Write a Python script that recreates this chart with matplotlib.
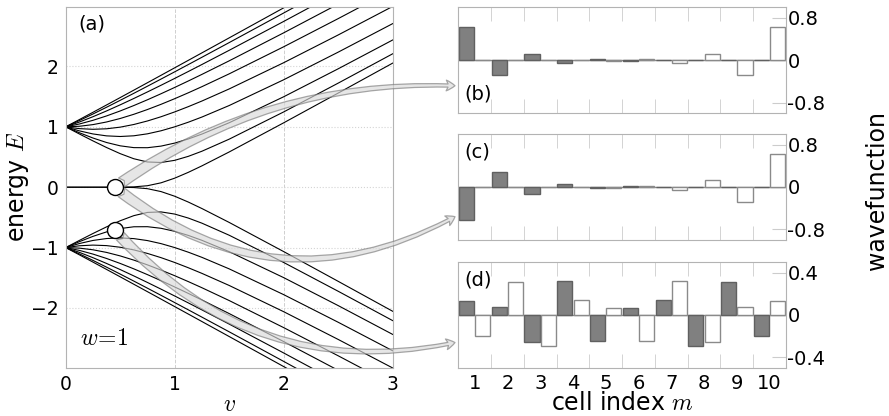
import matplotlib
matplotlib.use("Agg")
import matplotlib.pyplot as plt
from matplotlib.patches import ConnectionPatch
from matplotlib.ticker import FixedLocator

plt.rcParams['font.family'] = ['DejaVu Sans']
plt.rcParams['mathtext.fontset'] = 'cm'

# ---------------- data ----------------
v_vals = [0, 0.125, 0.25, 0.375, 0.5, 0.625, 0.75, 0.875, 1.0, 1.125, 1.25, 1.5, 2.0, 2.5, 3.0]

E1 = [1, 1.1197, 1.2406, 1.3623, 1.4846, 1.6075, 1.7306, 1.854, 1.9777, 2.1015, 2.2254, 2.4737, 2.9711, 3.4694, 3.9681]
E2 = [1, 1.104, 1.2126, 1.3246, 1.439, 1.5552, 1.6728, 1.7915, 1.9111, 2.0315, 2.1524, 2.3955, 2.8856, 3.3787, 3.8736]
E3 = [1, 1.0791, 1.1676, 1.2633, 1.3643, 1.4696, 1.578, 1.6889, 1.8019, 1.9166, 2.0326, 2.2675, 2.7459, 3.2313, 3.7206]
E4 = [1, 1.0467, 1.1078, 1.1806, 1.2629, 1.3526, 1.4482, 1.5485, 1.6525, 1.7594, 1.8688, 2.0932, 2.5571, 3.033, 3.5157]
E5 = [1, 1.0093, 1.0367, 1.0804, 1.1382, 1.2077, 1.2867, 1.3733, 1.4661, 1.5638, 1.6654, 1.8776, 2.326, 2.7925, 3.2692]
E6 = [1, 0.9702, 0.9592, 0.9676, 0.9947, 1.0387, 1.0971, 1.1672, 1.247, 1.3343, 1.4276, 1.6277, 2.0622, 2.5218, 2.9944]
E7 = [1, 0.9332, 0.8822, 0.8503, 0.8399, 0.8516, 0.8842, 0.9347, 1.0, 1.0767, 1.1622, 1.3529, 1.7797, 2.2371, 2.7095]
E8 = [1, 0.9025, 0.8146, 0.7403, 0.6854, 0.6555, 0.6542, 0.6808, 0.7307, 0.7987, 0.8801, 1.0676, 1.498, 1.9612, 2.4384]
E9 = [1, 0.8822, 0.7672, 0.6571, 0.5559, 0.4713, 0.4178, 0.4094, 0.445, 0.5112, 0.596, 0.7957, 1.2469, 1.7238, 2.2098]
E10 = [0, 0, 0, 0, 0.0007, 0.0055, 0.0245, 0.0727, 0.1495, 0.2462, 0.3536, 0.5836, 1.0666, 1.5592, 2.0551]
upper_levels = [E1, E2, E3, E4, E5, E6, E7, E8, E9, E10]

# marked states (v, E)
mark_v = 0.45
mark_E_edge = 0.0
mark_E_bulk = -0.71

cells = [1, 2, 3, 4, 5, 6, 7, 8, 9, 10]
b_A = [0.631, -0.284, 0.128, -0.057, 0.026, -0.012, 0.005, -0.002, 0.001, 0.0]
b_B = [0.0, 0.001, -0.002, 0.005, -0.012, 0.026, -0.057, 0.128, -0.284, 0.631]
c_A = [-0.631, 0.284, -0.128, 0.057, -0.026, 0.012, -0.005, 0.002, -0.001, 0.0]
c_B = [0.0, 0.001, -0.002, 0.005, -0.012, 0.026, -0.057, 0.128, -0.284, 0.631]
d_A = [0.132, 0.079, -0.258, 0.324, -0.245, 0.063, 0.142, -0.292, 0.314, -0.198]
d_B = [-0.198, 0.314, -0.292, 0.142, 0.063, -0.245, 0.324, -0.258, 0.079, 0.132]

# ---------------- figure ----------------
fig = plt.figure(figsize=(8.89, 4.16), dpi=100)

spine_col = '#b3b3b3'
ax = fig.add_axes([0.0739, 0.1161, 0.3678, 0.8678])
for lev in upper_levels:
    ax.plot(v_vals, lev, color='black', lw=0.8)
    ax.plot(v_vals, [-e for e in lev], color='black', lw=0.8)
ax.set_xlim(0, 3)
ax.set_ylim(-2.99, 2.99)
ax.set_xticks([0, 1, 2, 3])
ax.set_yticks([-2, -1, 0, 1, 2])
ax.xaxis.grid(True, ls='--', color='#cfcfcf', lw=0.7)
ax.yaxis.grid(True, ls=':', color='#d4d4d4', lw=0.8)
ax.tick_params(length=0, labelsize=13.5, pad=5)
for s in ax.spines.values():
    s.set_color(spine_col)
ax.set_xlabel('$v$', fontsize=17, labelpad=-1)
ax.set_ylabel('energy $E$', fontsize=17, labelpad=0)
ax.text(0.038, 0.978, '(a)', transform=ax.transAxes, fontsize=14, va='top', ha='left')
ax.text(0.045, 0.05, '$w\\!=\\!1$', transform=ax.transAxes, fontsize=17, va='bottom', ha='left')

ax.plot([mark_v], [mark_E_edge], 'o', ms=11.5, mfc='white', mec='black', mew=1.0, zorder=6)
ax.plot([mark_v], [mark_E_bulk], 'o', ms=11.5, mfc='white', mec='black', mew=1.0, zorder=6)

# right panels
panel_specs = [
    (0.7276, b_A, b_B, 1.0, [-0.8, 0, 0.8], ['-0.8', '0', '0.8'], '(b)', 'bottom'),
    (0.4231, c_A, c_B, 1.0, [-0.8, 0, 0.8], ['-0.8', '0', '0.8'], '(c)', 'top'),
    (0.1154, d_A, d_B, 0.5, [-0.4, 0, 0.4], ['-0.4', '0', '0.4'], '(d)', 'top'),
]
rax = []
for bottom, A, B, lim, yt, ytl, lab, labpos in panel_specs:
    a = fig.add_axes([0.5155, bottom, 0.3686, 0.2548])
    a.axhline(0, color='#8a8a8a', lw=1.0, zorder=1)
    a.bar([m - 0.25 for m in cells], A, width=0.46, color='#808080', edgecolor='#606060', lw=1.0, zorder=2)
    a.bar([m + 0.25 for m in cells], B, width=0.46, color='white', edgecolor='#8a8a8a', lw=1.0, zorder=2)
    a.set_xlim(0.5, 10.5)
    a.set_ylim(-lim, lim)
    a.yaxis.tick_right()
    a.set_yticks(yt)
    a.set_yticklabels(ytl)
    a.tick_params(axis='y', direction='in', length=10, color='#cccccc', labelsize=14, pad=1)
    a.set_xticks(cells)
    a.xaxis.set_minor_locator(FixedLocator([1.5, 2.5, 3.5, 4.5, 5.5, 6.5, 7.5, 8.5, 9.5]))
    a.tick_params(axis='x', which='major', length=0, labelsize=14, pad=4)
    a.tick_params(axis='x', which='minor', direction='in', length=10, color='#cccccc',
                  top=True, bottom=True)
    if lab != '(d)':
        a.set_xticklabels([])
    for s in a.spines.values():
        s.set_color(spine_col)
    if labpos == 'bottom':
        a.text(0.02, 0.09, lab, transform=a.transAxes, fontsize=14, va='bottom', ha='left')
    else:
        a.text(0.02, 0.92, lab, transform=a.transAxes, fontsize=14, va='top', ha='left')
    rax.append(a)

rax[2].set_xlabel('cell index $m$', fontsize=17, labelpad=-1)
fig.text(0.986, 0.541, 'wavefunction', rotation=90, ha='center', va='center', fontsize=17)

# arrows
astyle = "fancy,head_length=0.45,head_width=0.55,tail_width=0.55"
arrow_specs = [
    (mark_E_edge, rax[0], 0.26, -0.17),
    (mark_E_edge, rax[1], 0.22, 0.33),
    (mark_E_bulk, rax[2], 0.24, 0.29),
]
for E0, target, yfrac, rad in arrow_specs:
    cp = ConnectionPatch(xyA=(mark_v, E0), coordsA=ax.transData,
                         xyB=(-0.01, yfrac), coordsB=target.transAxes,
                         arrowstyle=astyle, connectionstyle=f"arc3,rad={rad}",
                         mutation_scale=14, fc='#d9d9d9', ec='#7a7a7a', lw=0.9,
                         alpha=0.65, shrinkA=6, shrinkB=0, zorder=5)
    fig.add_artist(cp)

fig.savefig('out.png', dpi=100)
